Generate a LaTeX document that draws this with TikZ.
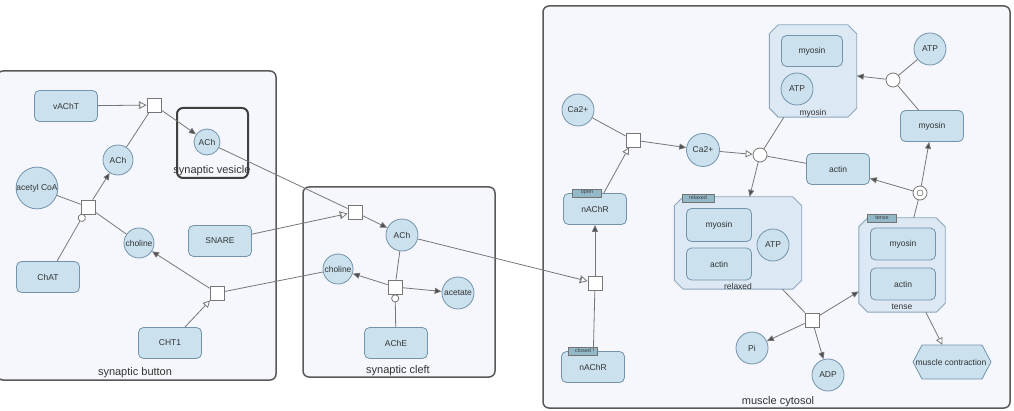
\documentclass[tikz,border=0pt]{standalone}
\usepackage{fontspec}
\setmainfont{Liberation Sans}
\usetikzlibrary{arrows.meta}
\definecolor{epnfill}{HTML}{CBE1EE}
\definecolor{epnedge}{HTML}{7393AB}
\definecolor{cpxfill}{HTML}{DCE9F4}
\definecolor{cpxedge}{HTML}{8BA6BD}
\definecolor{compfill}{HTML}{F5F7FC}
\definecolor{svfill}{HTML}{93B9C9}
\definecolor{arcgray}{HTML}{777777}
\newcommand\cpxoutline[1]{%
  \draw[draw=cpxedge, fill=cpxfill, line width=0.9pt]
    ([xshift=9pt]#1.north west) -- ([xshift=-9pt]#1.north east)
    -- ([yshift=-9pt]#1.north east) -- ([yshift=9pt]#1.south east)
    -- ([xshift=-9pt]#1.south east) -- ([xshift=9pt]#1.south west)
    -- ([yshift=9pt]#1.south west) -- ([yshift=-9pt]#1.north west) -- cycle;}

\begin{document}
\begin{tikzpicture}[x=1pt,y=-1pt,
  compartment/.style={draw=black!65, line width=1.5pt, rounded corners=6pt, fill=compfill},
  complabel/.style={font=\fontsize{11}{12}\selectfont, text=black!80},
  macro/.style={draw=epnedge, fill=epnfill, line width=0.8pt, rounded corners=5pt,
    minimum width=63pt, minimum height=31pt, font=\fontsize{8.5}{9}\selectfont, text=black!80},
  simple/.style={circle, draw=epnedge, fill=epnfill, line width=0.8pt, minimum size=30pt,
    inner sep=0pt, font=\fontsize{8.5}{9}\selectfont, text=black!80},
  complex/.style={draw=none, inner sep=0pt},
  cpxlabel/.style={font=\fontsize{8.5}{9}\selectfont, text=black!80},
  statevar/.style={draw=black!55, fill=svfill, inner sep=0.8pt, minimum width=29pt,
    minimum height=8pt, font=\fontsize{5.5}{6}\selectfont, text=black!75},
  process/.style={draw=arcgray, fill=white, line width=0.8pt, minimum size=14pt, inner sep=0pt},
  assoc/.style={circle, draw=arcgray, fill=white, line width=0.8pt, minimum size=14pt, inner sep=0pt},
  consumption/.style={draw=arcgray, line width=0.8pt},
  production/.style={draw=arcgray, line width=0.8pt, -{Triangle[length=7pt,width=6pt,fill=black!70]}},
  stimulation/.style={draw=arcgray, line width=0.8pt, -{Triangle[open,length=7pt,width=7pt,fill=white]}},
  necessary/.style={draw=arcgray, line width=0.8pt, -{Bar[width=8pt] Triangle[open,length=7pt,width=7pt,fill=white]}},
  catalysis/.style={draw=arcgray, line width=0.8pt, -{Circle[open,length=8pt,fill=white]}}]
\useasboundingbox (0,0) rectangle (1014,411);
% Compartments
\draw[compartment] (-3,71) rectangle (276,380);
\draw[compartment] (303,187) rectangle (495,377);
\draw[compartment] (543,6) rectangle (1010,408);
\draw[compartment, draw=black!75, line width=2pt] (177,108) rectangle (248,178);
\node[complabel] (lbutton) at (135,373) {synaptic button};
\node[complabel] (lcleft) at (398,371) {synaptic cleft};
\node[complabel] (lcytosol) at (778,402) {muscle cytosol};
\node[complabel] (lvesicle) at (212,171) {synaptic vesicle};
% Complexes
\node[complex, minimum width=87pt, minimum height=92pt] (cmyo) at (813,71) {};
\cpxoutline{cmyo}
\node[cpxlabel] (lmyo) at (813,113) {myosin};
\node[complex, minimum width=127pt, minimum height=92pt] (crelax) at (738,243) {};
\cpxoutline{crelax}
\node[cpxlabel] (lrelax) at (738,286) {relaxed};
\node[complex, minimum width=86pt, minimum height=94pt] (ctense) at (902,265) {};
\cpxoutline{ctense}
\node[cpxlabel] (ltense) at (902,307) {tense};
% Synaptic button
\node[macro] (vacht) at (66,106) {vAChT};
\node[process] (p1) at (154,105) {};
\node[simple, minimum size=26pt] (achv) at (207,142) {ACh};
\node[simple] (achb) at (118,160) {ACh};
\node[simple, minimum size=32pt] (acoa) at (37,188) {acetyl CoA};
\node[process] (p2) at (88,207) {};
\node[macro] (chat) at (48,277) {ChAT};
\node[simple] (cholb) at (139,243) {choline};
\node[macro] (snare) at (220,241) {SNARE};
\node[process] (p3) at (217,293) {};
\node[macro] (cht) at (170,343) {CHT1};
% Synaptic cleft
\node[process] (p4) at (355,212) {};
\node[simple, minimum size=32pt] (achc) at (402,235) {ACh};
\node[simple] (cholc) at (338,269) {choline};
\node[process] (p5) at (395,287) {};
\node[simple, minimum size=32pt] (acet) at (458,293) {acetate};
\node[macro] (ache) at (396,343) {AChE};
% Muscle cytosol
\node[process] (p6) at (595,283) {};
\node[macro] (nachrc) at (593,367) {nAChR};
\node[statevar] (svc) at (583,351) {closed};
\node[macro] (nachro) at (595,209) {nAChR};
\node[statevar] (svo) at (587,193) {open};
\node[simple, minimum size=32pt] (ca1) at (578,110) {Ca2+};
\node[process] (p7) at (633,140) {};
\node[simple, minimum size=33pt] (ca2) at (703,150) {Ca2+};
\node[assoc] (p8) at (760,155) {};
\node[macro, minimum width=61pt] (myo1) at (812,51) {myosin};
\node[simple, minimum size=32pt] (atp1) at (797,89) {ATP};
\node[assoc] (p9) at (893,80) {};
\node[simple, minimum size=32pt] (atp2) at (930,49) {ATP};
\node[macro] (myo2) at (932,126) {myosin};
\node[macro] (actin) at (838,169) {actin};
\node[assoc] (p10) at (920,193) {};
\node[circle, draw=arcgray, line width=0.6pt, minimum size=6pt, inner sep=0pt] (p10in) at (920,193) {};
\node[macro, minimum width=65pt, minimum height=33pt] (myo3) at (719,225) {myosin};
\node[macro, minimum width=65pt, minimum height=32pt] (act3) at (719,264) {actin};
\node[simple, minimum size=32pt] (atp3) at (773,245) {ATP};
\node[statevar, minimum width=32pt] (svr) at (698,198) {relaxed};
\node[macro, minimum width=65pt, minimum height=32pt] (myo4) at (903,244) {myosin};
\node[macro, minimum width=65pt, minimum height=32pt] (act4) at (903,284) {actin};
\node[statevar] (svt) at (882,218) {tense};
\node[process] (p11) at (812,320) {};
\node[simple, minimum size=32pt] (pi) at (752,348) {Pi};
\node[simple, minimum size=32pt] (adp) at (828,375) {ADP};
\draw[draw=epnedge, fill=epnfill, line width=0.8pt] (922,345) -- (982,345) -- (991,362)
  -- (982,379) -- (922,379) -- (913,362) -- cycle;
\node[font=\fontsize{8.5}{9}\selectfont, text=black!80, inner sep=0pt, minimum height=34pt] (contr) at (951,362) {muscle contraction};
% Arcs
\draw[necessary] (vacht) -- (p1);
\draw[consumption] (achb) -- (p1);
\draw[production] (p1) -- (achv);
\draw[consumption] (acoa) -- (p2);
\draw[consumption] (cholb) -- (p2);
\draw[production] (p2) -- (achb);
\draw[catalysis] (chat) -- (p2);
\draw[stimulation] (cht) -- (p3);
\draw[production] (p3) -- (cholb);
\draw[consumption] (cholc) -- (p3);
\draw[consumption] (achv) -- (p4);
\draw[necessary] (snare) -- (p4);
\draw[production] (p4) -- (achc);
\draw[consumption] (achc) -- (p5);
\draw[production] (p5) -- (cholc);
\draw[production] (p5) -- (acet);
\draw[catalysis] (ache) -- (p5);
\draw[necessary] (achc) -- (p6);
\draw[consumption] (nachrc) -- (p6);
\draw[production] (p6) -- (nachro);
\draw[consumption] (ca1) -- (p7);
\draw[stimulation] (nachro) -- (p7);
\draw[production] (p7) -- (ca2);
\draw[stimulation] (ca2) -- (p8);
\draw[consumption] (cmyo) -- (p8);
\draw[consumption] (actin) -- (p8);
\draw[production] (p8) -- (crelax);
\draw[consumption] (atp2) -- (p9);
\draw[consumption] (myo2) -- (p9);
\draw[production] (p9) -- (cmyo);
\draw[consumption] (ctense) -- (p10);
\draw[production] (p10) -- (actin);
\draw[production] (p10) -- (myo2);
\draw[consumption] (crelax) -- (p11);
\draw[production] (p11) -- (ctense);
\draw[production] (p11) -- (pi);
\draw[production] (p11) -- (adp);
\draw[stimulation] (ctense) -- (contr);
\end{tikzpicture}
\end{document}
